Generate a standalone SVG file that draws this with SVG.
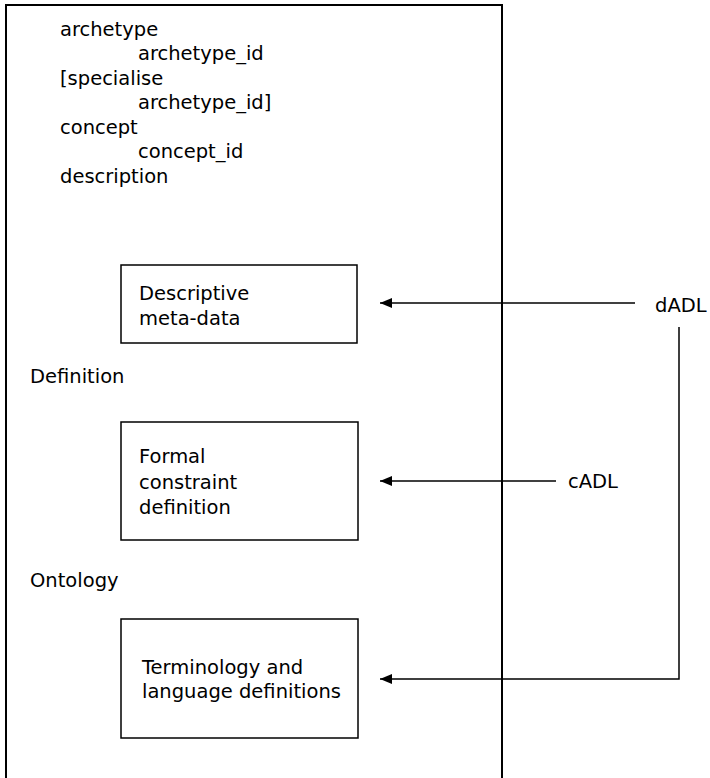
<svg xmlns="http://www.w3.org/2000/svg" width="710" height="778" viewBox="0 0 710 778">
<style>
text{font-family:"DejaVu Sans","Open Sans",sans-serif;font-size:19.5px;fill:#000}
.box{fill:#fff;stroke:#000;stroke-width:1.5}
.frame{fill:none;stroke:#000;stroke-width:2}
.con{fill:none;stroke:#000;stroke-width:1.5}
</style>
<defs>
<marker id="ah" markerWidth="12" markerHeight="10" refX="12" refY="5" orient="auto" markerUnits="userSpaceOnUse">
<path d="M0,0 L12,5 L0,10 Z" fill="#000"/>
</marker>
</defs>
<rect width="710" height="778" fill="#fff"/>
<g id="archetype-frame">
<path class="frame" d="M6,778 L6,5 L502,5 L502,778"/>
<text x="60" y="36">archetype</text>
<text x="138" y="60">archetype_id</text>
<text x="60" y="85">[specialise</text>
<text x="138" y="109">archetype_id]</text>
<text x="60" y="134">concept</text>
<text x="138" y="158">concept_id</text>
<text x="60" y="183">description</text>
<text x="30" y="383">Definition</text>
<text x="30" y="587">Ontology</text>
</g>
<g id="descriptive">
<rect class="box" x="121" y="265" width="236" height="78"/>
<text x="139" y="300">Descriptive</text>
<text x="139" y="325">meta-data</text>
</g>
<g id="formal">
<rect class="box" x="121" y="422" width="237" height="118"/>
<text x="139" y="463">Formal</text>
<text x="139" y="489">constraint</text>
<text x="139" y="514">definition</text>
</g>
<g id="terminology">
<rect class="box" x="121" y="619" width="237" height="119"/>
<text x="142" y="674">Terminology and</text>
<text x="142" y="698">language definitions</text>
</g>
<g id="dadl"><text x="655" y="312">dADL</text></g>
<g id="cadl"><text x="568" y="488">cADL</text></g>
<g id="connectors">
<path class="con" d="M635,303 L380,303" marker-end="url(#ah)"/>
<path class="con" d="M556,481 L380,481" marker-end="url(#ah)"/>
<path class="con" d="M679,327 L679,679 L380,679" marker-end="url(#ah)"/>
</g>
</svg>
